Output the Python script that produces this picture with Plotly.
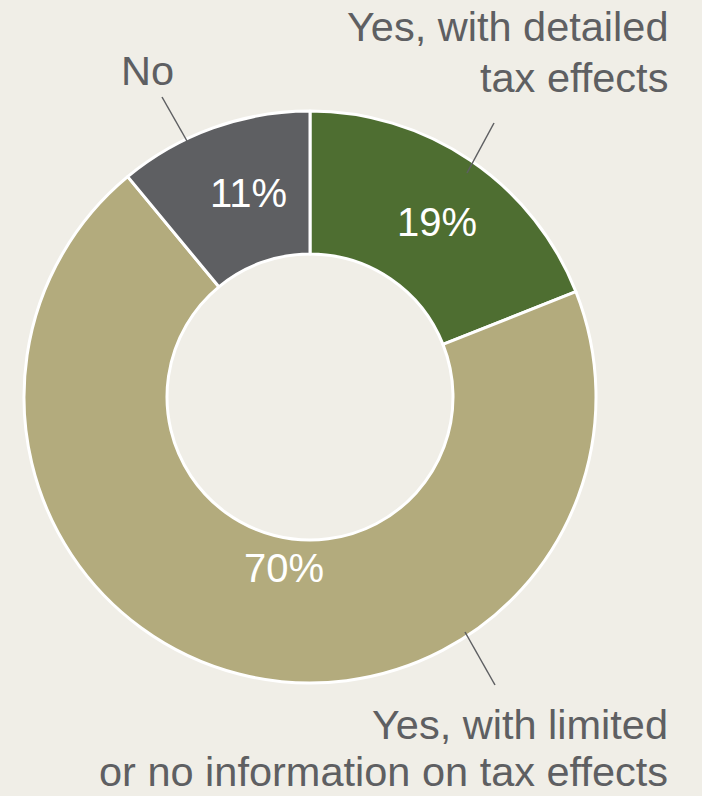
import plotly.graph_objects as go

categories = ["Yes, with detailed tax effects",
              "Yes, with limited or no information on tax effects",
              "No"]
values = [19, 70, 11]
colors = ["#4E6E31", "#B3AB7D", "#5E5F62"]
label_lines = [["Yes, with detailed", "tax effects"],
               ["Yes, with limited", "or no information on tax effects"],
               ["No"]]

W, H = 702, 796
BG = "#F0EEE7"
TXT = "#5E5F62"
FONT = "Liberation Sans, Arial, Helvetica, sans-serif"

cx, cy, R = 310, 397, 286

fig = go.Figure(go.Pie(
    labels=categories,
    values=values,
    hole=0.5,
    sort=False,
    direction="clockwise",
    rotation=0,
    marker=dict(colors=colors, line=dict(color="white", width=3)),
    textinfo="none",
    hoverinfo="label+percent",
    showlegend=False,
    domain=dict(x=[(cx - R) / W, (cx + R) / W], y=[(H - cy - R) / H, (H - cy + R) / H]),
))

def px(x, y):
    return x / W, 1 - y / H

leaders = [((467, 173), (494, 123)), ((465, 632), (495, 685)), ((187, 141), (162, 97))]
shapes = []
for (x0, y0), (x1, y1) in leaders:
    a0 = px(x0, y0); a1 = px(x1, y1)
    shapes.append(dict(type="line", xref="paper", yref="paper",
                       x0=a0[0], y0=a0[1], x1=a1[0], y1=a1[1],
                       line=dict(color=TXT, width=1.5)))

annotations = []

# percentage labels inside slices (text computed from data)
total = sum(values)
pct_pos = [(437, 237), (284, 583), (248, 208)]  # (center x, baseline y) in px
PS = 40
for v, (x, yb) in zip(values, pct_pos):
    ax, ay = px(x, yb - 0.375 * PS)
    annotations.append(dict(text=f"{round(100 * v / total)}%", x=ax, y=ay,
                            xref="paper", yref="paper", xanchor="center", yanchor="middle",
                            showarrow=False, font=dict(size=PS, color="white", family=FONT)))

# category labels
LS = 41.5
label_pos = [
    dict(x=670, baselines=[42, 93], xanchor="right"),
    dict(x=670, baselines=[740, 787], xanchor="right"),
    dict(x=147, baselines=[86], xanchor="center"),
]
for lines, lp in zip(label_lines, label_pos):
    for line, yb in zip(lines, lp["baselines"]):
        ax, ay = px(lp["x"], yb - 0.375 * LS)
        annotations.append(dict(text=line, x=ax, y=ay, xref="paper", yref="paper",
                                xanchor=lp["xanchor"], yanchor="middle",
                                showarrow=False, font=dict(size=LS, color=TXT, family=FONT)))

fig.update_layout(
    width=W, height=H,
    margin=dict(l=0, r=0, t=0, b=0),
    paper_bgcolor=BG, plot_bgcolor=BG,
    shapes=shapes, annotations=annotations,
    font=dict(family=FONT),
)

fig.write_html("out.html", config={"displayModeBar": False},
               post_script="document.body.style.margin='0';document.body.style.background='" + BG + "';")
